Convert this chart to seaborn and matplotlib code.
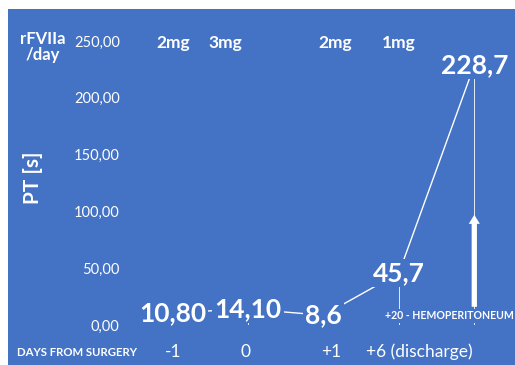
import matplotlib
matplotlib.use("Agg")
import matplotlib.pyplot as plt
import seaborn as sns
import pandas as pd
from matplotlib.patches import Rectangle
from matplotlib.ticker import FuncFormatter

# ---- data ----
categories = ["-1", "0", "+1", "+6", "+20"]
pt_values = [10.80, 14.10, 8.6, 45.7, 228.7]
value_labels = ["10,80", "14,10", "8,6", "45,7", "228,7"]
y_ticks = [0, 50, 100, 150, 200, 250]
dose_labels = ["2mg", "3mg", "2mg", "1mg"]
dose_pos = [0.0, 0.7, 2.15, 3.0]
day_labels = ["-1", "0", "+1", "+6 (discharge)"]
day_pos = [0.0, 0.97, 2.1, 3.27]
event_label = "+20 - HEMOPERITONEUM"
arrow_from, arrow_to = 16, 97

BLUE = "#4472C4"
sns.set_theme(style="white")
plt.rcParams["font.family"] = ["Lato", "DejaVu Sans"]

fig = plt.figure(figsize=(5.15, 3.65), dpi=100, facecolor="white")
fig.patches.append(Rectangle((8 / 515, 0), 1, 1 - 9 / 365, transform=fig.transFigure,
                             facecolor=BLUE, edgecolor="none", zorder=-10))
ax = fig.add_axes([135 / 515, 40 / 365, 377 / 515, 284 / 365])
ax.set_facecolor("none")

df = pd.DataFrame({"x": range(len(categories)), "pt": pt_values})
sns.lineplot(data=df, x="x", y="pt", ax=ax, color="white", linewidth=1.0, zorder=2)
ax.vlines(df["x"], 0, df["pt"], color="white", linewidth=0.6, zorder=1)

for xi, yi, lab in zip(df["x"], df["pt"], value_labels):
    ax.text(xi, yi, lab, ha="center", va="center", fontsize=19, fontweight="bold",
            color="white", zorder=5,
            bbox=dict(facecolor=BLUE, edgecolor="none", pad=1.5))

ax.annotate("", xy=(4, arrow_to), xytext=(4, arrow_from),
            arrowprops=dict(arrowstyle="simple,head_width=0.8,head_length=0.65,tail_width=0.38",
                            color="white", lw=0, shrinkA=0, shrinkB=0, mutation_scale=10),
            zorder=6)

ax.text(2.82, 8, event_label, ha="left", va="center", fontsize=7.6, fontweight="bold",
        color="white", zorder=4, clip_on=False,
        bbox=dict(facecolor=BLUE, edgecolor="none", pad=1))

ax.set_xlim(-0.5, 4.5)
ax.set_ylim(0, 250)
ax.set_yticks(y_ticks)
ax.yaxis.set_major_formatter(FuncFormatter(lambda v, p: f"{v:.2f}".replace(".", ",")))
ax.tick_params(axis="y", colors="white", labelsize=10.5, length=0, pad=11)
ax.set_xticks([])
for s in ax.spines.values():
    s.set_visible(False)
ax.set_xlabel("")
ax.set_ylabel("PT [s]", color="white", fontsize=15, fontweight="bold")
ax.yaxis.set_label_coords(-0.243, 0.52)

# top dose row
trans = ax.get_xaxis_transform()
fig.text(43 / 515, 1 - 47 / 365, "rFVIIa\n/day", ha="center", va="center", color="white",
         fontsize=12, fontweight="bold", linespacing=1.0)
for p, lab in zip(dose_pos, dose_labels):
    ax.text(p, (365 - 43 - 40) / 284, lab, transform=trans, ha="center", va="center",
            color="white", fontsize=12.5, fontweight="bold", clip_on=False)

# bottom day row
fig.text(77 / 515, 1 - 352 / 365, "DAYS FROM SURGERY", ha="center", va="center",
         color="white", fontsize=8.2, fontweight="bold")
for p, lab in zip(day_pos, day_labels):
    ax.text(p, (365 - 352 - 40) / 284, lab, transform=trans, ha="center", va="center",
            color="white", fontsize=12.5, clip_on=False)

fig.savefig("out.png", dpi=100, facecolor="white")
